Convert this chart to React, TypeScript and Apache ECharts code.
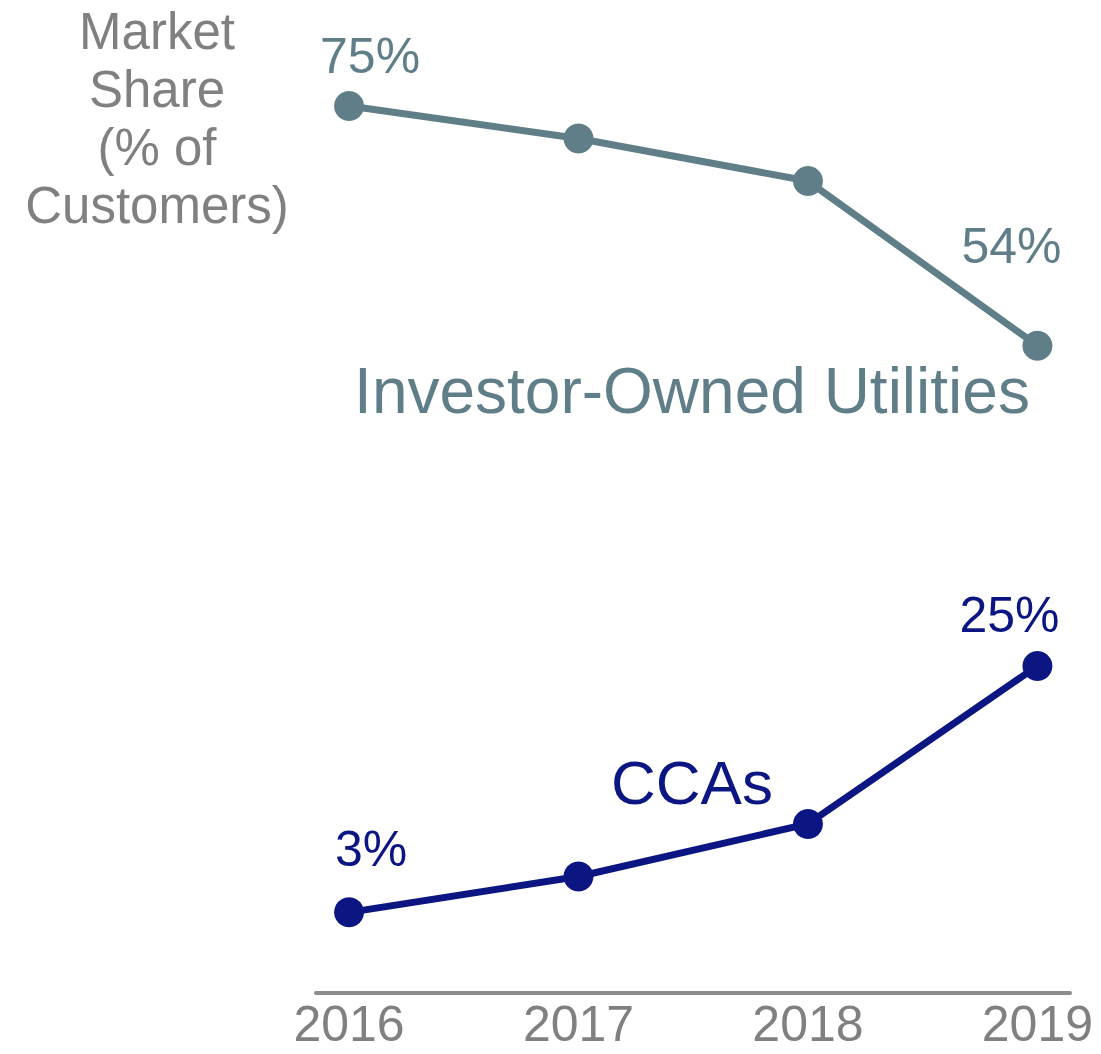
import React, { useEffect, useRef } from "react";
import * as echarts from "echarts";

const years = [2016, 2017, 2018, 2019];
const iouShare = [75, 72.1, 68.3, 53.6];
const ccaShare = [3, 6.2, 10.9, 25];
const yearTicks = [2016, 2017, 2018, 2019];
const iouName = "Investor-Owned Utilities";
const ccaName = "CCAs";
const axisTitle = "Market\nShare\n(% of\nCustomers)";

const FONT = '"Liberation Sans", Arial, sans-serif';
const IOU_COLOR = "#5f7e88";
const CCA_COLOR = "#0b1682";
const GRAY = "#808080";

function buildData(values: number[], offsets: Record<number, [number, number]>, color: string) {
  return years.map((y, i) => {
    const item: any = { value: [y, values[i]] };
    if (offsets[i]) {
      item.label = {
        show: true,
        position: "inside",
        offset: offsets[i],
        formatter: (p: any) => Math.round(p.value[1]) + "%",
        color,
        fontSize: 50,
        fontFamily: FONT,
      };
    }
    return item;
  });
}

export default function App() {
  const ref = useRef<HTMLDivElement>(null);
  useEffect(() => {
    if (!ref.current) return;
    const chart = echarts.init(ref.current, undefined, { renderer: "svg" });
    chart.setOption({
      animation: false,
      backgroundColor: "#ffffff",
      grid: { left: 316, right: 31, top: 50, bottom: 61, containLabel: false },
      xAxis: {
        type: "value",
        min: 2015.856,
        max: 2019.142,
        splitLine: { show: false },
        axisLine: { show: true, onZero: false, lineStyle: { color: "#8c8c8c", width: 4 } },
        axisTick: { show: false },
        axisLabel: {
          customValues: yearTicks,
          formatter: (v: number) => String(Math.round(v)),
          color: GRAY,
          fontSize: 50,
          fontFamily: FONT,
          margin: 6,
        },
      },
      yAxis: {
        type: "value",
        min: -4.2,
        max: 80,
        show: false,
        splitLine: { show: false },
      },
      series: [
        {
          name: iouName,
          type: "line",
          data: buildData(iouShare, { 0: [21, -50], 3: [-26, -100] }, IOU_COLOR),
          symbol: "circle",
          symbolSize: 30,
          lineStyle: { color: IOU_COLOR, width: 7 },
          itemStyle: { color: IOU_COLOR },
          label: { show: false },
          z: 3,
        },
        {
          name: ccaName,
          type: "line",
          data: buildData(ccaShare, { 0: [22, -63], 3: [-28, -51] }, CCA_COLOR),
          symbol: "circle",
          symbolSize: 30,
          lineStyle: { color: CCA_COLOR, width: 7 },
          itemStyle: { color: CCA_COLOR },
          label: { show: false },
          z: 3,
        },
      ],
      graphic: [
        {
          type: "text",
          x: 157,
          y: 118,
          style: {
            text: axisTitle,
            fill: GRAY,
            fontSize: 51,
            lineHeight: 58,
            fontFamily: FONT,
            textAlign: "center",
            textVerticalAlign: "middle",
          },
        },
        {
          type: "text",
          x: 692,
          y: 391,
          style: {
            text: iouName,
            fill: IOU_COLOR,
            fontSize: 64,
            fontFamily: FONT,
            textAlign: "center",
            textVerticalAlign: "middle",
          },
        },
        {
          type: "text",
          x: 692,
          y: 782,
          style: {
            text: ccaName,
            fill: CCA_COLOR,
            fontSize: 62,
            fontFamily: FONT,
            textAlign: "center",
            textVerticalAlign: "middle",
          },
        },
      ],
    });
    return () => chart.dispose();
  }, []);
  return (
    <div
      ref={ref}
      style={{ position: "absolute", left: 0, top: 0, width: 1101, height: 1054 }}
    />
  );
}
